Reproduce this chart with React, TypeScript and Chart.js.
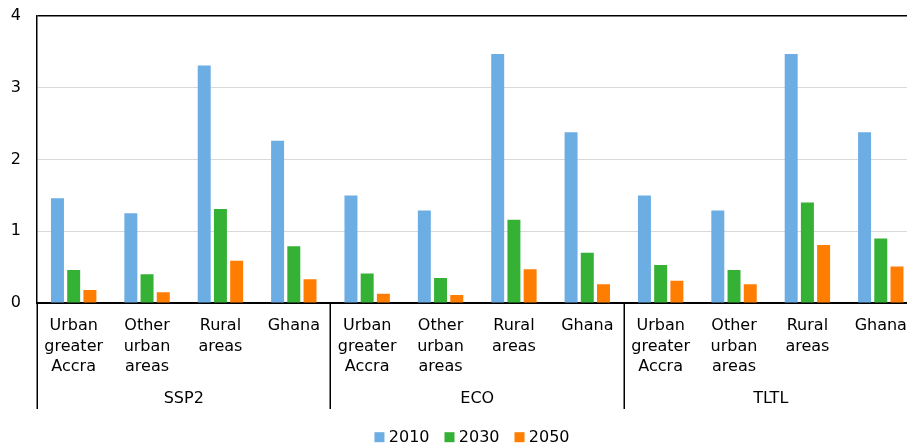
import React, { useEffect, useRef } from "react";
import { Chart, registerables } from "chart.js";

Chart.register(...registerables);

// Category labels (multi-line) and scenario groups
const categories: string[][] = [
  ["Urban", "greater", "Accra"], ["Other", "urban", "areas"], ["Rural", "areas"], ["Ghana"],
  ["Urban", "greater", "Accra"], ["Other", "urban", "areas"], ["Rural", "areas"], ["Ghana"],
  ["Urban", "greater", "Accra"], ["Other", "urban", "areas"], ["Rural", "areas"], ["Ghana"],
];
const groups: string[] = ["SSP2", "ECO", "TLTL"];
const groupSize = 4;

// Series values
const values2010: number[] = [1.46, 1.25, 3.31, 2.26, 1.5, 1.29, 3.47, 2.38, 1.5, 1.29, 3.47, 2.38];
const values2030: number[] = [0.46, 0.4, 1.31, 0.79, 0.41, 0.35, 1.16, 0.7, 0.53, 0.46, 1.4, 0.9];
const values2050: number[] = [0.18, 0.15, 0.59, 0.33, 0.13, 0.11, 0.47, 0.26, 0.31, 0.26, 0.81, 0.51];

const seriesNames: string[] = ["2010", "2030", "2050"];
const seriesColors: string[] = ["#6CADE3", "#35B135", "#FF7D00"];
const yTickLabels: string[] = ["0", "1", "2", "3", "4"];

const FONT = "'DejaVu Sans', Verdana, sans-serif";

// Draws the scenario separators below the axis, the scenario names and the legend
const groupAxisPlugin = {
  id: "groupAxis",
  afterDraw(chart: any) {
    const { ctx, chartArea, scales } = chart;
    const x = scales.x;
    const n = categories.length;
    const boundary = (i: number) => {
      if (i <= 0) return x.left;
      if (i >= n) return x.right;
      return (x.getPixelForValue(i - 1) + x.getPixelForValue(i)) / 2;
    };
    ctx.save();
    ctx.strokeStyle = "#000";
    ctx.lineWidth = 1.5;
    for (let g = 0; g <= groups.length; g++) {
      const px = Math.round(boundary(g * groupSize)) + 0.25;
      ctx.beginPath();
      ctx.moveTo(px, chartArea.bottom);
      ctx.lineTo(px, chartArea.bottom + 106);
      ctx.stroke();
    }
    ctx.fillStyle = "#000";
    ctx.font = `16px ${FONT}`;
    ctx.textAlign = "center";
    ctx.textBaseline = "middle";
    groups.forEach((name, g) => {
      const cx = (boundary(g * groupSize) + boundary((g + 1) * groupSize)) / 2;
      ctx.fillText(name, cx, chartArea.bottom + 96);
    });

    // legend: small squares followed by the series names, centred under the plot
    const box = 10;
    const boxGap = 4.3;
    const itemGap = 15;
    const items = chart.data.datasets.map((ds: any) => ({
      text: ds.label,
      color: ds.backgroundColor,
      w: ctx.measureText(ds.label).width,
    }));
    const total =
      items.reduce((s: number, it: any) => s + box + boxGap + it.w, 0) + itemGap * (items.length - 1);
    let cursor = 472 - total / 2;
    const baseline = chartArea.bottom + 138.7;
    ctx.textAlign = "left";
    ctx.textBaseline = "alphabetic";
    items.forEach((it: any) => {
      ctx.fillStyle = it.color;
      ctx.fillRect(cursor, baseline - 9.5, box, box);
      cursor += box + boxGap;
      ctx.fillStyle = "#000";
      ctx.fillText(it.text, cursor, baseline);
      cursor += it.w + itemGap;
    });
    ctx.restore();
  },
};

export default function App() {
  const canvasRef = useRef<HTMLCanvasElement | null>(null);

  useEffect(() => {
    if (!canvasRef.current) return;
    Chart.defaults.font.family = FONT;
    Chart.defaults.font.size = 16;
    Chart.defaults.color = "#000";

    const chart = new Chart(canvasRef.current, {
      type: "bar",
      data: {
        labels: categories,
        datasets: seriesNames.map((name, i) => ({
          label: name,
          data: [values2010, values2030, values2050][i],
          backgroundColor: seriesColors[i],
        })),
      },
      options: {
        responsive: false,
        animation: false,
        layout: { padding: { left: 0, right: 2, top: 16, bottom: 0 } },
        datasets: {
          bar: { categoryPercentage: 0.663, barPercentage: 0.8 },
        },
        scales: {
          x: {
            grid: { display: false, drawTicks: false },
            border: { color: "#000", width: 2 },
            ticks: {
              padding: 13,
              maxRotation: 0,
              autoSkip: false,
              font: { size: 16, lineHeight: 1.27 },
              color: "#000",
            },
            afterFit(scale: any) {
              scale.height = 141;
            },
          },
          y: {
            min: 0,
            max: 4,
            grid: {
              drawTicks: true,
              tickLength: 16,
              tickColor: "rgba(0,0,0,0)",
              color: (c: any) => (c.tick && c.tick.value === 4 ? "#000" : "#D9D9D9"),
              lineWidth: (c: any) => (c.tick && c.tick.value === 4 ? 1.5 : 1),
            },
            border: { color: "#000", width: 1.5 },
            ticks: {
              stepSize: 1,
              padding: 0,
              font: { size: 16 },
              color: "#000",
              callback: (_v: any, i: number) => yTickLabels[i],
            },
            afterFit(scale: any) {
              scale.width = 37;
            },
          },
        },
        plugins: {
          legend: { display: false },
          tooltip: { enabled: false },
        },
      },
      plugins: [groupAxisPlugin],
    });
    return () => chart.destroy();
  }, []);

  return (
    <div
      style={{
        position: "absolute",
        left: 0,
        top: 0,
        width: 907,
        height: 444,
        overflow: "hidden",
        background: "#fff",
      }}
    >
      <canvas ref={canvasRef} width={920} height={444} style={{ display: "block" }} />
    </div>
  );
}
